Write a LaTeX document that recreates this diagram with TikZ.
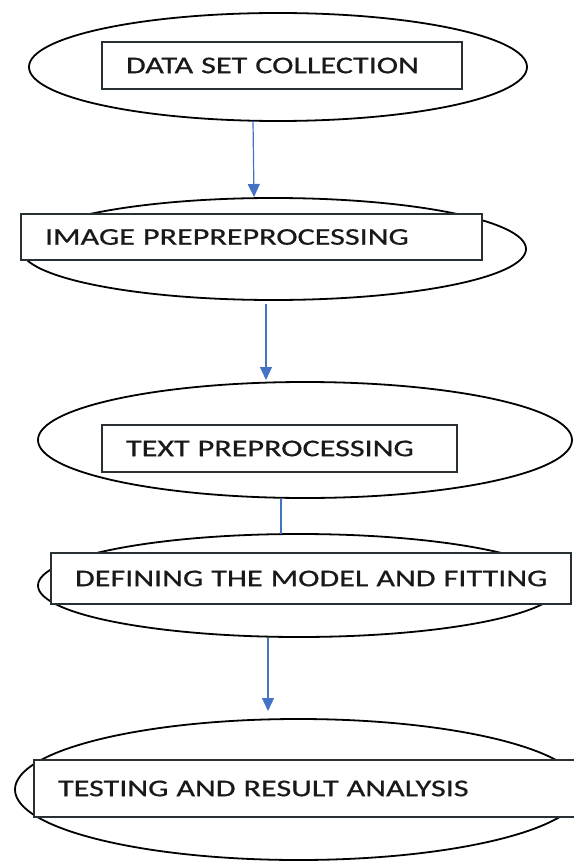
\documentclass[tikz,border=0pt]{standalone}
\usepackage{fontspec}
\setmainfont{Carlito}[FakeStretch=1.34,FakeBold=0.6]
\usetikzlibrary{shapes.geometric,arrows.meta}
\definecolor{arrowblue}{RGB}{68,114,196}
\definecolor{boxline}{RGB}{40,48,52}
\tikzset{
  ell/.style={draw=black, line width=1.8pt, ellipse, inner sep=0pt},
  boxnode/.style={draw=boxline, line width=1.3pt, fill=white, rectangle,
    inner xsep=24pt, inner ysep=0pt, align=left, text=black!90,
    font=\fontsize{24}{28}\selectfont},
  flow/.style={draw=arrowblue, line width=1.2pt, -{Triangle[length=13pt,width=12pt]}},
  plainflow/.style={draw=arrowblue, line width=1.2pt}
}
\begin{document}
\begin{tikzpicture}[x=1pt,y=-1pt]
\useasboundingbox (0,0) rectangle (573,861);
% ellipses
\node[ell, minimum width=498pt, minimum height=108pt] (e1) at (278,67) {};
\node[ell, minimum width=505pt, minimum height=102pt] (e2) at (273.5,249) {};
\node[ell, minimum width=534pt, minimum height=116pt] (e3) at (305,440) {};
\node[ell, minimum width=522pt, minimum height=103pt] (e4) at (299,585.5) {};
\node[ell, minimum width=567pt, minimum height=141pt] (e5) at (298.5,789.5) {};
% boxes
\node[boxnode, text width=312pt, minimum height=47pt] (r1) at (282,65.5) {\mbox{DATA SET COLLECTION}};
\node[boxnode, text width=413pt, minimum height=46pt] (r2) at (251.5,237) {\mbox{IMAGE PREPREPROCESSING}};
\node[boxnode, text width=307pt, minimum height=47pt] (r3) at (279.5,448.5) {\mbox{TEXT PREPROCESSING}};
\node[boxnode, text width=472pt, minimum height=51pt] (r4) at (311,578.5) {\mbox{DEFINING THE MODEL AND FITTING}};
\node[boxnode, text width=508pt, minimum height=57pt] (r5) at (312,788.5) {\mbox{TESTING AND RESULT ANALYSIS}};
% connector ends
\coordinate (a1s) at (253,121);
\coordinate (a1e) at (254,197);
\coordinate (a2s) at (266,304);
\coordinate (a2e) at (266,380);
\coordinate (a3s) at (281,499);
\coordinate (a3e) at (281,534);
\coordinate (a4s) at (268,638);
\coordinate (a4e) at (268,711);
\draw[flow] (a1s) -- (a1e);
\draw[flow] (a2s) -- (a2e);
\draw[plainflow] (a3s) -- (a3e);
\draw[flow] (a4s) -- (a4e);
\end{tikzpicture}
\end{document}
